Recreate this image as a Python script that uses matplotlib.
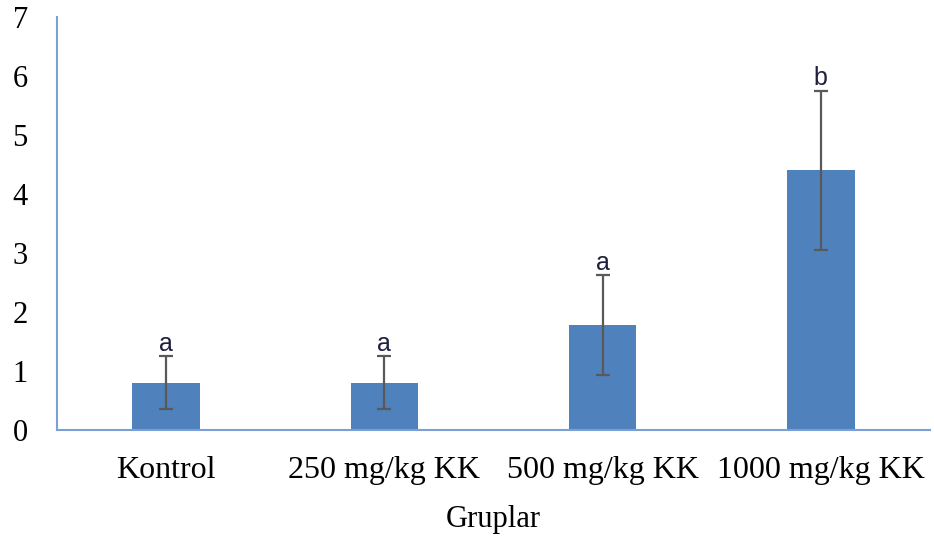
import numpy as np
import matplotlib.pyplot as plt

# data
groups = ['Kontrol', '250 mg/kg KK', '500 mg/kg KK', '1000 mg/kg KK']
means = [0.80, 0.80, 1.78, 4.40]
errs = [0.45, 0.45, 0.84, 1.35]
letters = ['a', 'a', 'a', 'b']

fig = plt.figure(figsize=(9.34, 5.41), dpi=100)
ax = fig.add_axes([57/934, 1-430/541, (930-57)/934, (430-17)/541])

x = np.arange(len(groups))
ax.bar(x, means, width=0.31, color='#4F81BD', zorder=2)
ax.errorbar(x, means, yerr=errs, fmt='none', ecolor='#595959', elinewidth=1.6,
            capsize=4.8, capthick=1.6, zorder=3)
for xi, m, e, lab in zip(x, means, errs, letters):
    ax.text(xi, m + e + 0.01, lab, ha='center', va='bottom', fontsize=18,
            family='Liberation Sans', color='#1F1F3F')

ax.set_xlim(-0.5, len(groups) - 0.5)
ax.set_ylim(0, 7)
ax.set_yticks(range(0, 8))
ax.set_xticks(x)
ax.set_xticklabels(groups)
for sp in ['top', 'right']:
    ax.spines[sp].set_visible(False)
for sp in ['left', 'bottom']:
    ax.spines[sp].set_color('#7BA0D6')
    ax.spines[sp].set_linewidth(1.5)
ax.tick_params(axis='x', length=0, labelsize=23, pad=19)
ax.tick_params(axis='y', length=0, labelsize=22, pad=21)
for t in ax.get_xticklabels() + ax.get_yticklabels():
    t.set_family('Liberation Serif')
ax.set_xlabel('Gruplar', family='Liberation Serif', fontsize=22, labelpad=14)

fig.savefig('out.png', dpi=100)
